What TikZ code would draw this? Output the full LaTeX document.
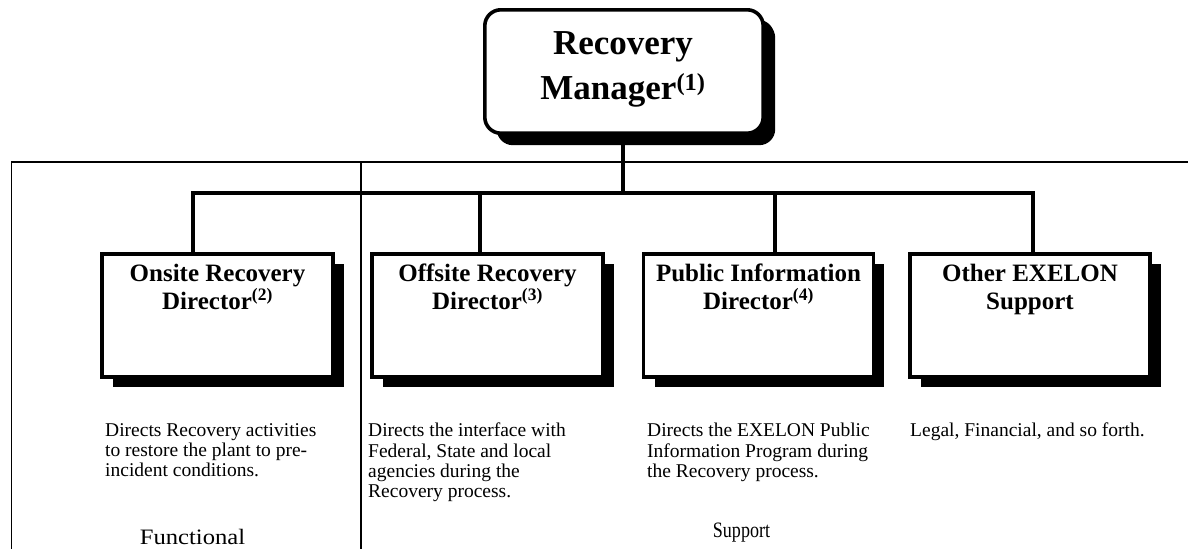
\documentclass[tikz,border=0pt]{standalone}
\usepackage{fontspec}
\setmainfont{Liberation Serif}
\usetikzlibrary{shadows}
\begin{document}
\begin{tikzpicture}[x=1pt,y=-1pt,
  frame/.style={line width=1.4pt},
  link/.style={line width=4pt},
  boxshadow/.style={drop shadow={shadow xshift=11pt, shadow yshift=-10pt, fill=black, opacity=1}},
  rolebox/.style={draw, line width=3.6pt, fill=white, minimum width=#1,
    minimum height=123.4pt, inner sep=0pt, boxshadow},
  head/.style={font=\fontsize{25}{28}\selectfont\bfseries, align=center,
    anchor=north, inner sep=0pt, yshift=-12pt},
  note/.style={font=\fontsize{19.5}{20.3}\selectfont, align=left,
    anchor=north west, inner sep=0pt},
  area/.style={font=\fontsize{22}{24}\selectfont, inner sep=0pt}
]
\useasboundingbox (0,0) rectangle (1188,549);

% outer frame and the divider between the two groups
\coordinate (tl) at (11.5,162);
\coordinate (tr) at (1188,162);
\coordinate (bl) at (11.5,549);
\coordinate (dt) at (361,162);
\coordinate (db) at (361,549);
\draw[frame] (tr) -- (tl) -- (bl);
\draw[frame] (dt) -- (db);

% top box
\node[rolebox=278.4pt, rounded corners=16pt, drop shadow={shadow xshift=12pt, shadow yshift=-12pt, fill=black, opacity=1}]
  (mgr) at (624,71.5) {};
\node[font=\fontsize{35}{45}\selectfont\bfseries, align=center, anchor=north, inner sep=0pt]
  (mgrtext) at (623,31) {Recovery\\Manager\textsuperscript{(1)}};

% second-level boxes
\node[rolebox=231.4pt] (onsite)  at (217.5,315.5) {};
\node[rolebox=231.4pt] (offsite) at (487.5,315.5) {};
\node[rolebox=229.7pt] (public)  at (758.5,315.5) {};
\node[rolebox=240pt]   (other)   at (1030,315.5) {};

\node[head] (onsiteh)  at (onsite.north)  {Onsite Recovery\\Director\textsuperscript{(2)}};
\node[head] (offsiteh) at (offsite.north) {Offsite Recovery\\Director\textsuperscript{(3)}};
\node[head] (publich)  at (public.north)  {Public Information\\Director\textsuperscript{(4)}};
\node[head] (otherh)   at (other.north)   {Other EXELON\\Support};

% connectors
\coordinate (b1) at (193,193);
\coordinate (b2) at (480,193);
\coordinate (b3) at (775,193);
\coordinate (b4) at (1033,193);
\draw[link] (mgr.south -| 622.7,0) -- (b1 -| 622.7,0);
\draw[link] ([xshift=-2pt]b1) -- ([xshift=2pt]b4);
\draw[link] (b1) -- (b1 |- onsite.north);
\draw[link] (b2) -- (b2 |- offsite.north);
\draw[link] (b3) -- (b3 |- public.north);
\draw[link] (b4) -- (b4 |- other.north);

% descriptions
\node[note] (onsited)  at (105,423) {Directs Recovery activities\\to restore the plant to pre-\\incident conditions.};
\node[note] (offsited) at (368,423) {Directs the interface with\\Federal, State and local\\agencies during the\\Recovery process.};
\node[note] (publicd)  at (647,423) {Directs the EXELON Public\\Information Program during\\the Recovery process.};
\node[note] (otherd)   at (910,423) {Legal, Financial, and so forth.};

% group labels
\node[area] (functional) at (192.5,537) {\scalebox{1.12}[1]{Functional}};
\node[area] (support)    at (741.5,533) {\scalebox{0.82}[1]{Support}};
\end{tikzpicture}
\end{document}
